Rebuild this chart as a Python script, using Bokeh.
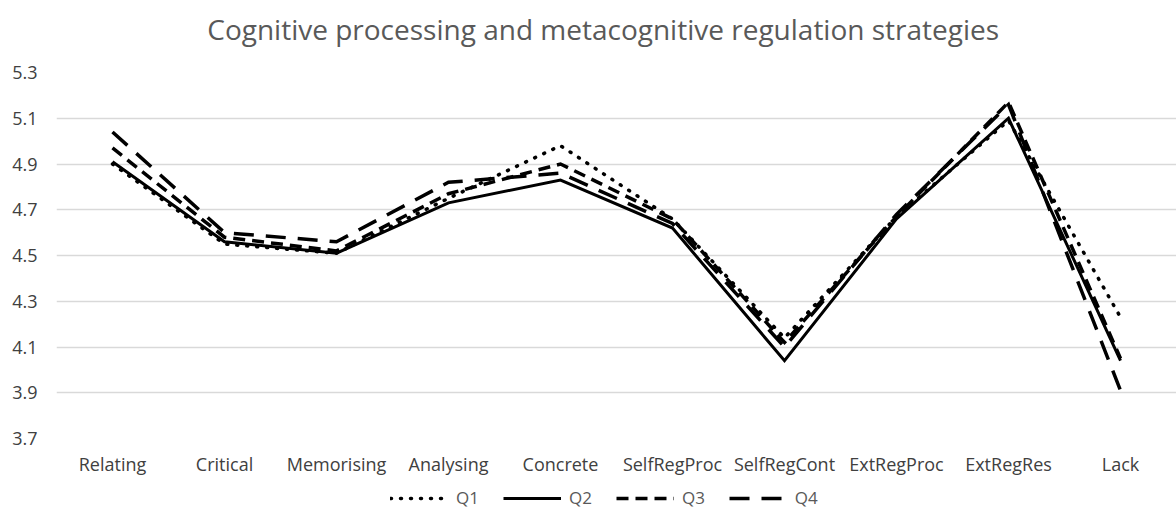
from bokeh.plotting import figure
from bokeh.layouts import column
from bokeh.models import (FixedTicker, PrintfTickFormatter, Legend, LegendItem, Range1d,
                          FactorRange, Label)
from bokeh.embed import file_html
from bokeh.resources import INLINE

title_text = "Cognitive processing and metacognitive regulation strategies"
categories = ["Relating", "Critical", "Memorising", "Analysing", "Concrete",
              "SelfRegProc", "SelfRegCont", "ExtRegProc", "ExtRegRes", "Lack"]
q1 = [4.90, 4.55, 4.51, 4.75, 4.98, 4.66, 4.14, 4.67, 5.09, 4.23]
q2 = [4.91, 4.56, 4.51, 4.73, 4.83, 4.62, 4.04, 4.66, 5.10, 4.04]
q3 = [4.97, 4.58, 4.52, 4.77, 4.90, 4.66, 4.12, 4.67, 5.17, 4.05]
q4 = [5.04, 4.60, 4.56, 4.82, 4.86, 4.64, 4.10, 4.68, 5.16, 3.91]
y_ticks = [3.7, 3.9, 4.1, 4.3, 4.5, 4.7, 4.9, 5.1, 5.3]
series_names = ["Q1", "Q2", "Q3", "Q4"]

FONT = "Open Sans"
GREY = "#595959"

# title strip
tf = figure(width=1176, height=60, x_range=Range1d(0, 1176), y_range=Range1d(0, 60),
            output_backend="svg", toolbar_location=None, min_border=0,
            x_axis_location=None, y_axis_location=None)
tf.grid.visible = False
tf.outline_line_color = None
tf.add_layout(Label(x=574, y=32, text=title_text, text_align="center",
                    text_baseline="middle", text_font=FONT, text_font_size="28px",
                    text_color=GREY))

p = figure(width=1176, height=420, x_range=FactorRange(*categories),
           y_range=Range1d(3.7, 5.3), output_backend="svg", toolbar_location=None,
           min_border_left=56, min_border_right=0, min_border_top=12, min_border_bottom=42)
p.outline_line_color = None
p.background_fill_color = "white"
p.border_fill_color = "white"

p.yaxis.ticker = FixedTicker(ticks=y_ticks)
p.yaxis.formatter = PrintfTickFormatter(format="%.1f")
p.yaxis.axis_line_color = None
p.yaxis.major_tick_line_color = None
p.yaxis.minor_tick_line_color = None
p.yaxis.major_label_standoff = 13
p.xaxis.axis_line_color = None
p.xaxis.major_tick_line_color = None
p.xaxis.major_label_standoff = 7
for ax in (p.xaxis, p.yaxis):
    ax.major_label_text_font = FONT
    ax.major_label_text_font_size = "18px"
    ax.major_label_text_color = "#404040"

p.xgrid.grid_line_color = None
p.ygrid.grid_line_color = "#d9d9d9"
p.ygrid.grid_line_width = 1.5
p.ygrid.ticker = FixedTicker(ticks=y_ticks)

styles = [
    dict(line_dash="1 9", line_width=3.5, line_cap="round"),
    dict(line_dash="solid", line_width=3, line_cap="butt"),
    dict(line_dash="12 7", line_width=3.5, line_cap="butt"),
    dict(line_dash="20 12", line_width=3.5, line_cap="butt"),
]
for vals, st in zip([q1, q2, q3, q4], styles):
    p.line(categories, vals, line_color="black", line_join="miter", **st)

# legend strip below the chart (its lines lie outside its visible range)
lf = figure(width=1176, height=40, x_range=Range1d(0, 1), y_range=Range1d(0, 1),
            output_backend="svg", toolbar_location=None, min_border=0,
            x_axis_location=None, y_axis_location=None)
lf.grid.visible = False
lf.outline_line_color = None
items = []
for name, st in zip(series_names, styles):
    r = lf.line([5, 6], [5, 5], line_color="black", **st)
    items.append(LegendItem(label=name, renderers=[r]))
legend = Legend(items=items, orientation="horizontal", location=(334, 11),
                glyph_width=58, glyph_height=16, label_standoff=8, spacing=24,
                label_text_font=FONT, label_text_font_size="17px", label_text_color=GREY,
                background_fill_alpha=0, border_line_color=None, padding=0, margin=0)
lf.add_layout(legend)

open("out.html", "w").write(file_html(column(tf, p, lf, spacing=0), INLINE))
